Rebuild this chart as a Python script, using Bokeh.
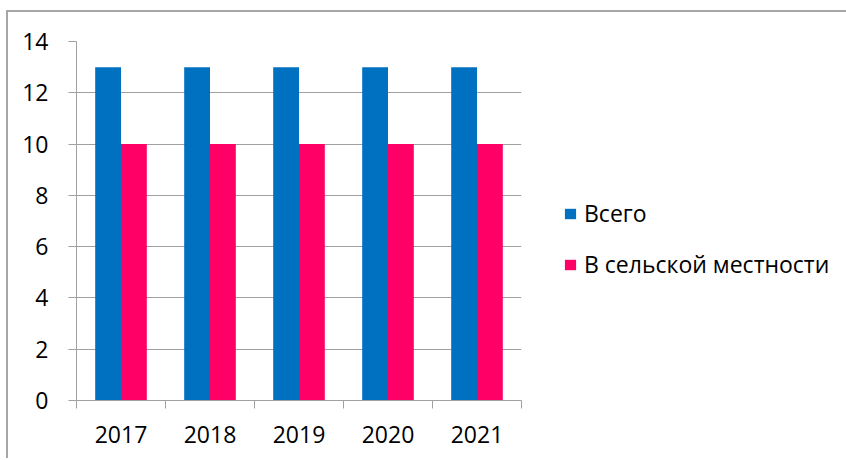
from bokeh.plotting import figure
from bokeh.models import (ColumnDataSource, Range1d, LinearAxis, FixedTicker,
                          Legend, LegendItem)
from bokeh.transform import dodge
from bokeh.embed import file_html
from bokeh.resources import INLINE

years = ["2017", "2018", "2019", "2020", "2021"]
total = [13, 13, 13, 13, 13]
rural = [10, 10, 10, 10, 10]
series_names = ["Всего", "В сельской местности"]
y_ticks = [0, 2, 4, 6, 8, 10, 12, 14]

BLUE = "#0070C0"
PINK = "#FF0066"
GRID = "#A0A0A0"
FONT = "Open Sans"
FS = "23px"

n = len(years)
centres = [i + 0.5 for i in range(n)]      # category centres
bounds = list(range(n + 1))                # category boundaries (tick marks)

src = ColumnDataSource(dict(x=centres, year=years, total=total, rural=rural))

p = figure(x_range=Range1d(0, n), y_range=Range1d(0, 14),
           frame_width=445, frame_height=359, output_backend="svg", toolbar_location=None,
           x_axis_location=None, min_border_left=68, min_border_right=322,
           min_border_top=29, min_border_bottom=58)
p.margin = (10, 0, 0, 6)
p.outline_line_color = None
p.background_fill_color = "white"
p.border_fill_color = "white"
p.styles = {"border-left": "2px solid #A6A6A6", "border-top": "2px solid #A6A6A6"}

bw = 0.29
r1 = p.vbar(x=dodge("x", -bw / 2), top="total", width=bw,
            source=src, fill_color=BLUE, line_color=None)
r2 = p.vbar(x=dodge("x", bw / 2), top="rural", width=bw,
            source=src, fill_color=PINK, line_color=None)

# y axis
yax = p.yaxis[0]
yax.ticker = FixedTicker(ticks=y_ticks)
yax.axis_line_color = GRID
yax.major_tick_line_color = GRID
yax.major_tick_out = 8
yax.major_tick_in = 0
yax.minor_tick_line_color = None
yax.major_label_text_font = FONT
yax.major_label_text_font_size = FS
yax.major_label_text_color = "black"
yax.major_label_standoff = 20

p.ygrid.ticker = FixedTicker(ticks=y_ticks)
p.ygrid.grid_line_color = GRID
p.xgrid.grid_line_color = None

# x axis: labels at category centres, ticks at category boundaries
xax = LinearAxis(ticker=FixedTicker(ticks=centres, minor_ticks=bounds),
                 major_label_overrides={c: y for c, y in zip(centres, years)})
xax.axis_line_color = GRID
xax.major_tick_line_color = None
xax.major_tick_out = 0
xax.major_tick_in = 0
xax.minor_tick_line_color = GRID
xax.minor_tick_out = 8
xax.minor_tick_in = 0
xax.major_label_text_font = FONT
xax.major_label_text_font_size = FS
xax.major_label_text_color = "black"
xax.major_label_standoff = 17
p.add_layout(xax, "below")

legend = Legend(items=[LegendItem(label=series_names[0], renderers=[r1]),
                       LegendItem(label=series_names[1], renderers=[r2])],
                location=(42, 120), orientation="vertical")
legend.border_line_color = None
legend.background_fill_alpha = 0
legend.padding = 0
legend.margin = 0
legend.glyph_width = 14
legend.glyph_height = 13
legend.label_standoff = 7
legend.spacing = 19
legend.label_text_font = FONT
legend.label_text_font_size = FS
legend.label_text_color = "black"
p.add_layout(legend, "right")

open("out.html", "w").write(file_html(p, INLINE))
